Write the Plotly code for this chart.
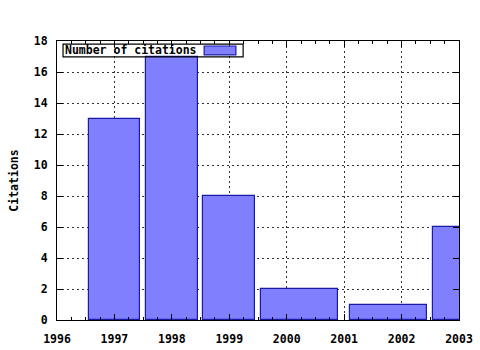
import plotly.graph_objects as go

years = [1997, 1998, 1999, 2000, 2002, 2003]
citations = [13, 17, 8, 2, 1, 6]
series_name = "Number of citations"
y_title = "Citations"

# gnuplot-style boxes with relative boxwidth 0.9
rel = 0.9
centers, widths = [], []
n = len(years)
for i, x in enumerate(years):
    dl = (x - years[i - 1]) if i > 0 else (years[i + 1] - x)
    dr = (years[i + 1] - x) if i < n - 1 else (x - years[i - 1])
    left = rel * dl / 2
    right = rel * dr / 2
    centers.append(x + (right - left) / 2)
    widths.append(left + right)

FONT = "DejaVu Sans Mono"
fill = "#8080ff"
edge = "#1a1aa8"

fig = go.Figure()
fig.add_trace(go.Bar(
    x=centers, y=citations, width=widths,
    marker=dict(color=fill, line=dict(color=edge, width=1.2)),
    name=series_name, showlegend=False,
))

axis_common = dict(
    showline=True, linecolor="black", linewidth=1.2, mirror="ticks",
    ticks="inside", ticklen=6, tickcolor="black", tickwidth=1,
    showgrid=True, gridcolor="#333333", griddash="2px,3px", gridwidth=1,
    zeroline=False, automargin=False,
    tickfont=dict(family=FONT, size=11.5, color="black", weight="bold"),
)

fig.update_xaxes(
    range=[1996, 2003], tickmode="linear", tick0=1996, dtick=1,
    ticklabelstandoff=8,
    minor=dict(dtick=0.25, ticks="inside", ticklen=3, tickcolor="black", showgrid=False),
    **axis_common,
)
fig.update_yaxes(
    range=[0, 18], tickmode="linear", tick0=0, dtick=2,
    ticklabelstandoff=6,
    title=dict(text=y_title, font=dict(family=FONT, size=11.5, color="black", weight="bold"), standoff=12),
    **axis_common,
)

# legend box (gnuplot style: text then sample)
fig.add_annotation(
    xref="paper", yref="paper", x=0.0174, y=0.966, xanchor="left", yanchor="middle",
    text=series_name, showarrow=False, borderpad=0,
    font=dict(family=FONT, size=11.5, color="black", weight="bold"),
)
fig.add_shape(type="rect", xref="paper", yref="paper",
              x0=0.015, x1=0.463, y0=0.943, y1=0.989,
              line=dict(color="black", width=1.2), fillcolor="rgba(0,0,0,0)")
fig.add_shape(type="rect", xref="paper", yref="paper",
              x0=0.366, x1=0.445, y0=0.950, y1=0.982,
              line=dict(color=edge, width=1.2), fillcolor=fill)

fig.update_layout(
    width=480, height=350,
    margin=dict(l=57, r=21, t=41, b=30),
    paper_bgcolor="white", plot_bgcolor="white",
    bargap=0,
)

fig.write_html("out.html")
